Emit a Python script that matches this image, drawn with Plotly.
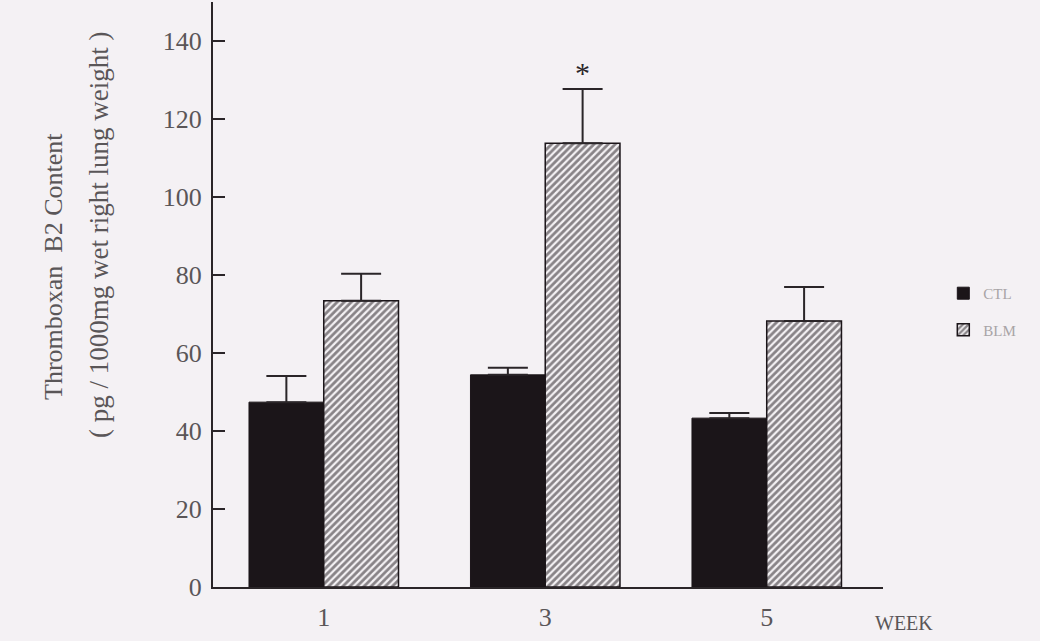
import plotly.graph_objects as go

# Thromboxane B2 content by week, control vs bleomycin
weeks = [1, 3, 5]
week_labels = ["1", "3", "5"]
ctl_mean = [47.4, 54.4, 43.3]
ctl_sem = [6.7, 1.8, 1.3]
blm_mean = [73.4, 113.8, 68.2]
blm_sem = [6.9, 13.9, 8.7]
y_ticks = [0, 20, 40, 60, 80, 100, 120, 140]
significant = [False, True, False]

SERIF = "Liberation Serif, Times New Roman, serif"
BG = "#f4f1f4"
INK = "#2a2528"
TEXT = "#5a5658"

fig = go.Figure()

fig.add_trace(go.Bar(
    x=weeks, y=ctl_mean, name="CTL", legendgroup="ctl",
    marker=dict(color="#1b1519", line=dict(color="#1b1519", width=1)),
    error_y=dict(type="data", symmetric=False, array=ctl_sem,
                 arrayminus=[0] * len(ctl_sem),
                 color=INK, thickness=2, width=20),
))
fig.add_trace(go.Bar(
    x=weeks, y=blm_mean, name="BLM", legendgroup="blm",
    marker=dict(color="#f4f1f4",
                line=dict(color="#1b1519", width=1.5),
                pattern=dict(shape="/", fgcolor="#1b1519", bgcolor="#f4f1f4",
                             size=5, solidity=0.55)),
    error_y=dict(type="data", symmetric=False, array=blm_sem,
                 arrayminus=[0] * len(blm_sem),
                 color=INK, thickness=2, width=20),
))

# significance marker over the bleomycin bar
for wk, m, s, sig in zip(weeks, blm_mean, blm_sem, significant):
    if sig:
        fig.add_annotation(x=wk + 0.3375, y=m + s, text="*", showarrow=False,
                           yanchor="bottom", yshift=-2,
                           font=dict(family=SERIF, size=30, color=INK))

# two-line y-axis title
fig.add_annotation(xref="paper", yref="paper", x=-0.238, y=0.548,
                   text="Thromboxan  B2 Content", textangle=-90,
                   showarrow=False, xanchor="center", yanchor="middle",
                   font=dict(family=SERIF, size=26, color=TEXT))
fig.add_annotation(xref="paper", yref="paper", x=-0.17, y=0.602,
                   text="( pg / 1000mg wet right lung weight )", textangle=-90,
                   showarrow=False, xanchor="center", yanchor="middle",
                   font=dict(family=SERIF, size=27, color=TEXT))

fig.add_annotation(xref="paper", yref="paper", x=0.985, y=-0.04,
                   text="WEEK", showarrow=False, xanchor="left", yanchor="top",
                   font=dict(family=SERIF, size=20, color=TEXT))

fig.update_layout(
    width=1040, height=641,
    margin=dict(l=213, r=157, t=2, b=54),
    paper_bgcolor=BG, plot_bgcolor=BG,
    barmode="group", bargap=0.325, bargroupgap=0,
    showlegend=True,
    legend=dict(x=1.09, y=0.53, xanchor="left", yanchor="top",
                bgcolor="rgba(0,0,0,0)", traceorder="grouped",
                tracegroupgap=14,
                font=dict(family=SERIF, size=15, color="#a8a4a6")),
    xaxis=dict(range=[0, 6.05], tickvals=weeks, ticktext=week_labels,
               showgrid=False, zeroline=False, showline=True,
               linecolor=INK, linewidth=2, ticks="", ticklabelstandoff=6,
               tickfont=dict(family=SERIF, size=26, color=TEXT)),
    yaxis=dict(range=[0, 150], tickvals=y_ticks,
               showgrid=False, zeroline=False, showline=True,
               linecolor=INK, linewidth=2, ticks="inside", ticklen=12,
               tickwidth=2, tickcolor=INK, ticklabelstandoff=4,
               tickfont=dict(family=SERIF, size=26, color=TEXT)),
)

fig.write_html("out.html")
